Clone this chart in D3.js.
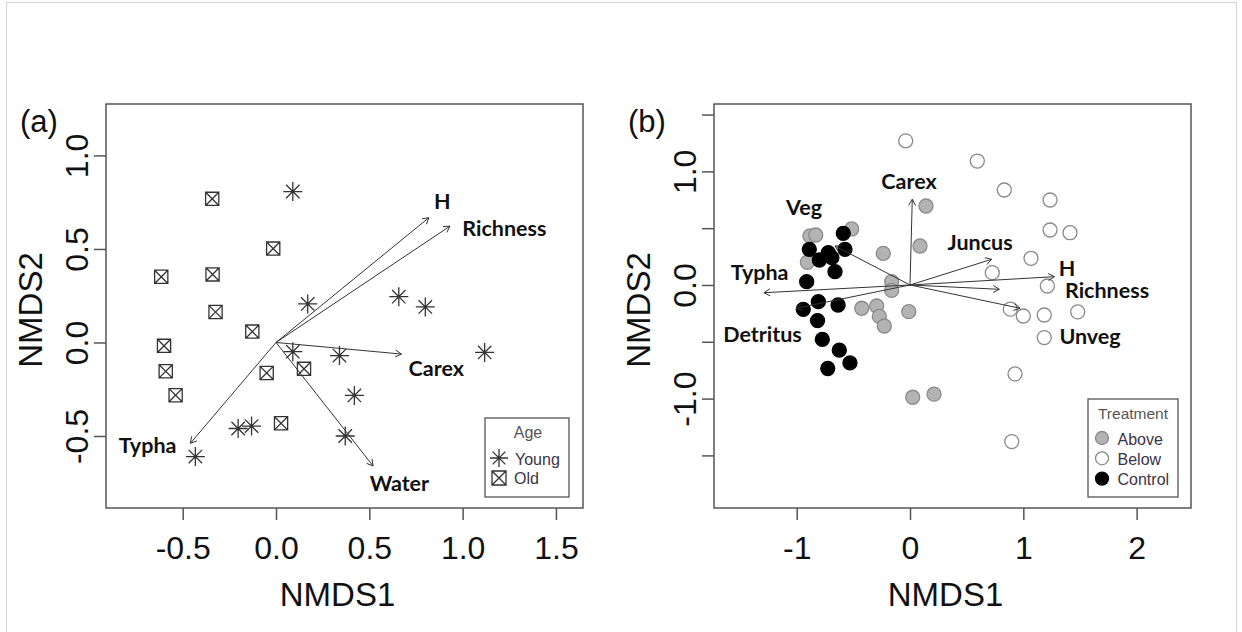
<!DOCTYPE html>
<html>
<head>
<meta charset="utf-8">
<script src="https://cdn.jsdelivr.net/npm/d3@7"></script>
<style>
  body { margin: 0; background: #fff; }
  svg { display: block; }
</style>
</head>
<body>
<script>
// ---- panel (a): sites coloured by age ----
var aYoung = [[0.09, 0.807], [0.17, 0.206], [0.658, 0.245], [0.80, 0.19], [1.118, -0.053], [0.09, -0.049],
              [0.34, -0.07], [0.42, -0.283], [0.371, -0.50], [-0.203, -0.46], [-0.131, -0.447], [-0.432, -0.61]];
var aOld = [[-0.342, 0.768], [-0.015, 0.502], [-0.615, 0.351], [-0.34, 0.364], [-0.324, 0.163], [-0.127, 0.058],
            [-0.60, -0.018], [-0.591, -0.154], [-0.538, -0.282], [-0.05, -0.163], [0.15, -0.141], [0.027, -0.432]];
var aVectors = ["H", "Richness", "Carex", "Water", "Typha"];
var aVecX = [0.819, 0.932, 0.672, 0.52, -0.459];
var aVecY = [0.667, 0.622, -0.062, -0.66, -0.539];
var aLabelX = [0.891, 1.224, 0.859, 0.661, -0.688];
var aLabelY = [0.753, 0.608, -0.139, -0.755, -0.55];
var aTicksX = [-0.5, 0, 0.5, 1, 1.5];
var aTicksY = [-0.5, 0, 0.5, 1];

// ---- panel (b): sites coloured by treatment ----
var bAbove = [[0.141, 0.695], [-0.515, 0.493], [-0.883, 0.432], [-0.832, 0.44], [0.088, 0.343], [-0.236, 0.279],
              [-0.906, 0.20], [-0.162, 0.029], [-0.162, -0.048], [-0.426, -0.205], [-0.294, -0.185], [-0.271, -0.277],
              [-0.227, -0.361], [-0.011, -0.235], [0.024, -0.988], [0.212, -0.961]];
var bBelow = [[-0.038, 1.269], [0.594, 1.091], [0.832, 0.836], [1.236, 0.748], [1.236, 0.484], [1.412, 0.46],
              [1.068, 0.235], [0.726, 0.108], [1.212, -0.009], [0.885, -0.213], [1.0, -0.273], [1.185, -0.264],
              [1.48, -0.237], [1.185, -0.463], [0.927, -0.783], [0.898, -1.378]];
var bControl = [[-0.589, 0.455], [-0.574, 0.314], [-0.889, 0.314], [-0.721, 0.284], [-0.80, 0.22], [-0.69, 0.24],
                [-0.662, 0.117], [-0.912, 0.029], [-0.809, -0.147], [-0.635, -0.176], [-0.942, -0.214],
                [-0.816, -0.313], [-0.774, -0.479], [-0.624, -0.574], [-0.53, -0.686], [-0.726, -0.735]];
var bVectors = ["Carex", "Veg", "Typha", "Detritus", "Juncus", "H", "Richness", "Unveg"];
var bVecX = [0.02, -0.662, -1.289, -1.006, 0.721, 1.274, 0.788, 0.971];
var bVecY = [0.754, 0.343, -0.068, -0.205, 0.226, 0.073, -0.038, -0.205];
var bLabelX = [-0.009, -0.936, -1.327, -1.302, 0.618, 1.386, 1.739, 1.589];
var bLabelY = [0.915, 0.682, 0.11, -0.431, 0.378, 0.147, -0.048, -0.455];
var bTicksX = [-1, 0, 1, 2];
var bTicksY = [-1.5, -1, -0.5, 0, 0.5, 1, 1.5];
var bTickLabelsY = [-1, 0, 1];

var W = 1242, H = 632;
var axisFont = "'Liberation Sans', Arial, sans-serif";
var vecFont = "Lato, 'Open Sans', sans-serif";
var ink = "#333";

// R style labels: plain hyphen for the minus sign
function fmt1(d) { return d.toFixed(1); }
function fmt0(d) { return d.toFixed(0); }

var svg = d3.select("body").append("svg")
    .attr("width", W)
    .attr("height", H);

// light frame round the figure
svg.append("rect")
    .attr("x", 6.5).attr("y", 2.5)
    .attr("width", 1230).attr("height", 660)
    .attr("fill", "none").attr("stroke", "#d4d4d4");

// asterisk (pch 8)
function starPath(r) {
  var d = r * Math.SQRT1_2;
  return "M" + (-r) + ",0L" + r + ",0M0," + (-r) + "L0," + r +
         "M" + (-d) + "," + (-d) + "L" + d + "," + d + "M" + (-d) + "," + d + "L" + d + "," + (-d);
}
// square with cross (pch 7)
function boxCrossPath(h) {
  return "M" + (-h) + "," + (-h) + "H" + h + "V" + h + "H" + (-h) + "Z" +
         "M" + (-h) + "," + (-h) + "L" + h + "," + h + "M" + (-h) + "," + h + "L" + h + "," + (-h);
}

function drawPanel(o) {
  var g = svg.append("g");
  var x = d3.scaleLinear().domain(o.xDomain).range([o.left, o.right]);
  var y = d3.scaleLinear().domain(o.yDomain).range([o.bottom, o.top]);

  // axes
  var ax = g.append("g")
      .attr("transform", "translate(0," + o.bottom + ")")
      .call(d3.axisBottom(x).tickValues(o.ticksX).tickSize(12).tickPadding(20).tickFormat(o.fmtX));
  var ay = g.append("g")
      .attr("transform", "translate(" + o.left + ",0)")
      .call(d3.axisLeft(y).tickValues(o.ticksY).tickSize(12).tickFormat(o.fmtY));
  [ax, ay].forEach(function(a) {
    a.select(".domain").remove();
    a.selectAll(".tick line").attr("stroke", "#555").attr("stroke-width", 1.5);
    a.selectAll(".tick text")
        .attr("fill", "#111")
        .style("font-family", axisFont)
        .style("font-size", "32px");
  });
  ax.selectAll(".tick text").attr("dy", "0.58em");
  ay.selectAll(".tick text")
      .attr("x", null).attr("dy", null)
      .attr("text-anchor", "middle")
      .attr("dominant-baseline", "central")
      .attr("transform", "translate(-29,0) rotate(-90)");

  // plot box
  g.append("rect")
      .attr("x", o.left).attr("y", o.top)
      .attr("width", o.right - o.left).attr("height", o.bottom - o.top)
      .attr("fill", "none").attr("stroke", "#555").attr("stroke-width", 1.5);

  // axis titles
  g.append("text")
      .attr("x", (o.left + o.right) / 2 - 7).attr("y", 594)
      .attr("text-anchor", "middle").attr("dominant-baseline", "central")
      .style("font-family", axisFont).style("font-size", "33px").attr("fill", "#111")
      .text("NMDS1");
  g.append("text")
      .attr("transform", "translate(" + (o.left - 76) + "," + ((o.top + o.bottom) / 2 + 4) + ") rotate(-90)")
      .attr("text-anchor", "middle").attr("dominant-baseline", "central")
      .style("font-family", axisFont).style("font-size", "33px").attr("fill", "#111")
      .text("NMDS2");
  g.append("text")
      .attr("x", o.left - 86).attr("y", 132)
      .style("font-family", axisFont).style("font-size", "31px").attr("fill", "#111")
      .text(o.tag);

  o.drawPoints(g, x, y);

  // fitted vectors
  var vec = g.append("g").attr("stroke", ink).attr("stroke-width", 1).attr("fill", "none");
  o.names.forEach(function(n, i) {
    var x0 = x(0), y0 = y(0), x1 = x(o.vx[i]), y1 = y(o.vy[i]);
    var ang = Math.atan2(y1 - y0, x1 - x0), L = 7, s = Math.PI / 6;
    vec.append("path").attr("d",
        "M" + x0 + "," + y0 + "L" + x1 + "," + y1 +
        "M" + (x1 - L * Math.cos(ang - s)) + "," + (y1 - L * Math.sin(ang - s)) +
        "L" + x1 + "," + y1 +
        "L" + (x1 - L * Math.cos(ang + s)) + "," + (y1 - L * Math.sin(ang + s)));
  });
  g.selectAll(".vlab").data(o.names).enter().append("text")
      .attr("class", "vlab")
      .attr("x", function(d, i) { return x(o.lx[i]); })
      .attr("y", function(d, i) { return y(o.ly[i]); })
      .attr("dy", "0.36em")
      .attr("text-anchor", "middle")
      .style("font-family", vecFont).style("font-weight", "bold").style("font-size", "21.5px")
      .attr("fill", "#111")
      .text(function(d) { return d; });

  o.drawLegend(g);
}

// panel (a)
drawPanel({
  tag: "(a)",
  left: 106, right: 583, top: 104, bottom: 508,
  xDomain: [-0.911, 1.645], yDomain: [-0.885, 1.275],
  ticksX: aTicksX, ticksY: aTicksY,
  fmtX: fmt1, fmtY: fmt1,
  names: aVectors, vx: aVecX, vy: aVecY, lx: aLabelX, ly: aLabelY,
  drawPoints: function(g, x, y) {
    g.selectAll(".young").data(aYoung).enter().append("path")
        .attr("class", "young")
        .attr("transform", function(d) { return "translate(" + x(d[0]) + "," + y(d[1]) + ")"; })
        .attr("d", starPath(9.5))
        .attr("fill", "none").attr("stroke", ink).attr("stroke-width", 1.3);
    g.selectAll(".old").data(aOld).enter().append("path")
        .attr("class", "old")
        .attr("transform", function(d) { return "translate(" + x(d[0]) + "," + y(d[1]) + ")"; })
        .attr("d", boxCrossPath(6.6))
        .attr("fill", "none").attr("stroke", ink).attr("stroke-width", 1.3);
  },
  drawLegend: function(g) {
    var lg = g.append("g").attr("transform", "translate(485,418)");
    lg.append("rect").attr("width", 84).attr("height", 79)
        .attr("fill", "#fff").attr("stroke", "#555").attr("stroke-width", 1.3);
    lg.append("text").attr("x", 43).attr("y", 20).attr("text-anchor", "middle")
        .style("font-family", axisFont).style("font-size", "16px").attr("fill", "#555").text("Age");
    lg.append("path").attr("transform", "translate(14,40)").attr("d", starPath(9))
        .attr("fill", "none").attr("stroke", ink).attr("stroke-width", 1.3);
    lg.append("path").attr("transform", "translate(14,60)").attr("d", boxCrossPath(7))
        .attr("fill", "none").attr("stroke", ink).attr("stroke-width", 1.3);
    lg.append("text").attr("x", 30).attr("y", 47)
        .style("font-family", axisFont).style("font-size", "16px").attr("fill", "#3b3348").text("Young");
    lg.append("text").attr("x", 29).attr("y", 66)
        .style("font-family", axisFont).style("font-size", "16px").attr("fill", "#3b3348").text("Old");
  }
});

// panel (b)
var bGroups = [
  {name: "Above", pts: bAbove, fill: "#b3b3b3", stroke: "#8a8a8a"},
  {name: "Below", pts: bBelow, fill: "#ffffff", stroke: "#8a8a8a"},
  {name: "Control", pts: bControl, fill: "#000000", stroke: "#000000"}
];
drawPanel({
  tag: "(b)",
  left: 714, right: 1191, top: 104, bottom: 508,
  xDomain: [-1.73, 2.48], yDomain: [-1.963, 1.593],
  ticksX: bTicksX, ticksY: bTicksY,
  fmtX: fmt0,
  fmtY: function(d) { return bTickLabelsY.indexOf(d) >= 0 ? fmt1(d) : ""; },
  names: bVectors, vx: bVecX, vy: bVecY, lx: bLabelX, ly: bLabelY,
  drawPoints: function(g, x, y) {
    bGroups.forEach(function(grp) {
      g.append("g").selectAll("circle").data(grp.pts).enter().append("circle")
          .attr("cx", function(d) { return x(d[0]); })
          .attr("cy", function(d) { return y(d[1]); })
          .attr("r", 7)
          .attr("fill", grp.fill).attr("stroke", grp.stroke).attr("stroke-width", 1.3);
    });
  },
  drawLegend: function(g) {
    var lg = g.append("g").attr("transform", "translate(1088,399)");
    lg.append("rect").attr("width", 90).attr("height", 98)
        .attr("fill", "#fff").attr("stroke", "#555").attr("stroke-width", 1.3);
    lg.append("text").attr("x", 45).attr("y", 20).attr("text-anchor", "middle")
        .style("font-family", axisFont).style("font-size", "15.5px").attr("fill", "#555").text("Treatment");
    bGroups.forEach(function(grp, i) {
      lg.append("circle").attr("cx", 14).attr("cy", 39 + i * 20.3).attr("r", 6.5)
          .attr("fill", grp.fill).attr("stroke", grp.stroke).attr("stroke-width", 1.3);
      lg.append("text").attr("x", 29.5).attr("y", 46 + i * 20)
          .style("font-family", axisFont).style("font-size", "16px").attr("fill", "#3b3348")
          .text(grp.name);
    });
  }
});
</script>
</body>
</html>
